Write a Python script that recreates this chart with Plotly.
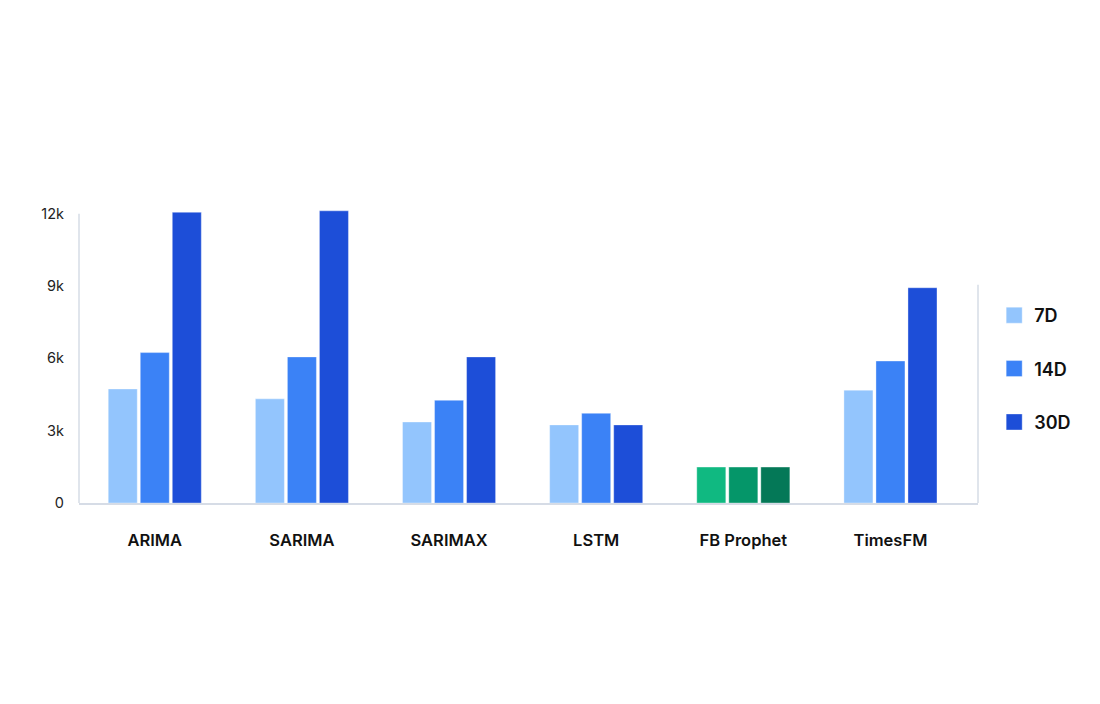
import plotly.graph_objects as go

models = ["ARIMA", "SARIMA", "SARIMAX", "LSTM", "FB Prophet", "TimesFM"]
horizons = ["7D", "14D", "30D"]
v7 = [4730, 4320, 3360, 3240, 1490, 4680]
v14 = [6240, 6060, 4260, 3720, 1490, 5890]
v30 = [12060, 12120, 6060, 3240, 1490, 8930]
series = [v7, v14, v30]
blue_colors = ["#93c5fd", "#3b82f6", "#1d4ed8"]
green_colors = ["#10b981", "#059669", "#047857"]
highlight = "FB Prophet"
y_ticks = [0, 3000, 6000, 9000, 12000]
y_labels = ["0", "3k", "6k", "9k", "12k"]

fig = go.Figure()
for i, (name, vals) in enumerate(zip(horizons, series)):
    cols = [green_colors[i] if m == highlight else blue_colors[i] for m in models]
    fig.add_trace(go.Bar(
        x=models, y=vals, name=name, showlegend=False,
        marker=dict(color=cols, line=dict(color="rgba(255,255,255,0.35)", width=1)),
        cliponaxis=False,
    ))
for i, name in enumerate(horizons):
    fig.add_trace(go.Scatter(
        x=[None], y=[None], mode="markers", name=name,
        marker=dict(symbol="square", size=16, color=blue_colors[i],
                    line=dict(color="rgba(255,255,255,0.35)", width=1)),
        legendgroup=name,
    ))

axis_color = "#d6dce6"
fig.update_layout(
    width=1100, height=704,
    margin=dict(l=79, r=122, t=200, b=201),
    paper_bgcolor="white", plot_bgcolor="white",
    barmode="group", bargap=0.347, bargroupgap=0.094,
    font=dict(family="Inter", color="#1f2328"),
    legend=dict(x=1.018, y=0.68, xanchor="left", yanchor="top",
                font=dict(size=18, family="Inter", weight=600, color="#111"),
                tracegroupgap=27, itemwidth=30),
    xaxis=dict(type="category", range=[-0.515, 5.595], showline=True,
               linecolor=axis_color, linewidth=1.5, ticks="", showgrid=False,
               tickfont=dict(size=16.5, family="Inter", weight=600, color="#111"),
               ticklabelstandoff=21),
    yaxis=dict(range=[0, 12570], showline=False, showgrid=False, zeroline=False,
               tickvals=y_ticks, ticktext=y_labels, ticks="",
               tickfont=dict(size=14.5, family="Inter", color="#222"),
               ticklabelstandoff=14),
    shapes=[
        dict(type="line", xref="paper", yref="y", x0=0, x1=0, y0=0, y1=12000,
             line=dict(color=axis_color, width=1.5)),
        dict(type="line", xref="paper", yref="y", x0=1, x1=1, y0=0, y1=9050,
             line=dict(color=axis_color, width=1.5)),
    ],
)
fig.write_html("out.html")
